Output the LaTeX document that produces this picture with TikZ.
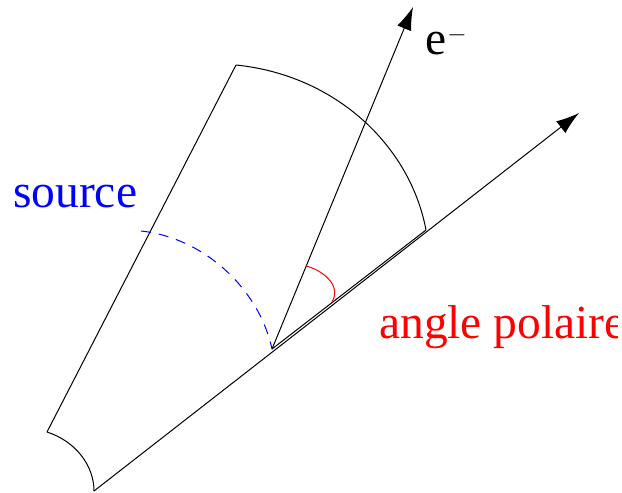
\documentclass[tikz,border=0pt]{standalone}
\usepackage{fontspec}
\setmainfont{Liberation Serif}
\usepackage{tikz}
\usetikzlibrary{arrows.meta,positioning}
\definecolor{SourceBlue}{HTML}{0000FF}
\definecolor{AngleRed}{HTML}{FF0000}
\begin{document}
\begin{tikzpicture}[
x=1pt,y=-1pt,
trait/.style={draw,black,line width=1pt},
arr/.style={-{Latex[length=23pt,width=15pt]},line width=1pt},
label/.style={inner sep=0pt,anchor=base west,font=\fontsize{47.5}{50}\selectfont}
]
\useasboundingbox (0,0) rectangle (622,493);
\clip (0,0) rectangle (617,493);
\coordinate (origin) at (272,349);
\coordinate (tipe) at (413,7);
\coordinate (tipaxis) at (579,113);
\coordinate (outerA) at (236,65);
\coordinate (outerB) at (426,230);
\coordinate (innerA) at (47,432);
\coordinate (innerB) at (94,491);
\coordinate (dashA) at (141,231);
\coordinate (redA) at (306,266);
\coordinate (redB) at (332,302);
% sector
\draw[trait] (innerA) -- (outerA);
\draw[trait] (outerA) .. controls (335,75) and (410,145) .. (outerB);
\draw[trait] (innerA) .. controls (75,441) and (94,465) .. (innerB);
\draw[arr] (innerB) -- (tipaxis);
\draw[trait] (origin) -- (outerB);
\draw[arr] (origin) -- (tipe);
% arcs
\draw[SourceBlue,line width=1pt,dash pattern=on 10pt off 8pt] (dashA) .. controls (200,237) and (258,285) .. (origin);
\draw[AngleRed,line width=1pt] (redA) .. controls (322,270) and (342,285) .. (redB);
% labels
\node[label,text=SourceBlue] (source) at (13,207) {source};
\node[label,text=AngleRed] (angle) at (379,338) {angle polaire};
\node[label] (electron) at (425,54) {e\kern1pt\raisebox{3pt}{$^{-}$}};
\end{tikzpicture}
\end{document}
